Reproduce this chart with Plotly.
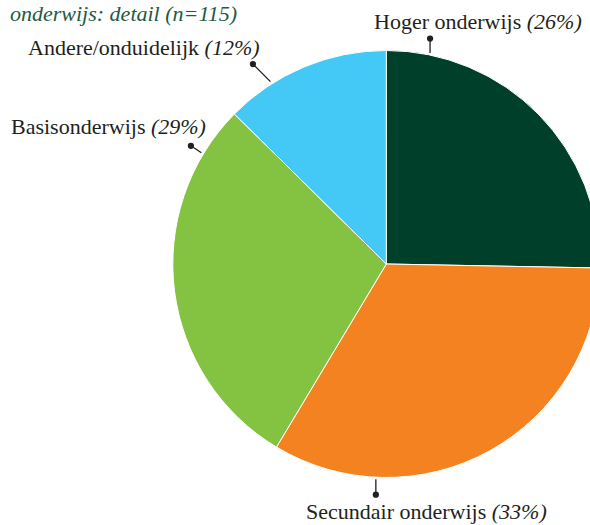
import math
import plotly.graph_objects as go

# ---- data ----
categories = ["Hoger onderwijs", "Secundair onderwijs", "Basisonderwijs", "Andere/onduidelijk"]
slice_values = [25.3, 33.3, 28.8, 12.6]      # slice sizes as drawn (%)
label_pcts = [26, 33, 29, 12]                # percentages as printed
title_text = "onderwijs: detail (n=115)"

# ---- style ----
colors = ["#00402a", "#f58220", "#84c341", "#44c8f5"]
W, H = 600, 525
CX, CY, R = 386.3, 264.0, 213.5
FONT = "Liberation Serif"
TXT = "#231f20"
# per-label: leader angle on the rim (deg, clockwise from top), dot offset (px), text centre (px)
leader_angle = [11.8, 182.8, 301.0, 327.7]
dot_offset = [(0, -16), (0, 17), (-12, -8), (-19, -19)]
text_center = [(478, 22), (426, 511), (108, 127), (144, 47)]

fig = go.Figure(go.Pie(
    labels=categories, values=slice_values, sort=False, direction="clockwise", rotation=0,
    marker=dict(colors=colors, line=dict(color="white", width=1)),
    textinfo="none", hoverinfo="skip", showlegend=False,
    domain=dict(x=[(CX - R) / W, (CX + R) / W], y=[1 - (CY + R) / H, 1 - (CY - R) / H]),
))

def px2paper(x, y):
    return x / W, 1 - y / H

ann = []
for i, cat in enumerate(categories):
    a = math.radians(leader_angle[i])
    ex, ey = CX + (R + 0.5) * math.sin(a), CY - (R + 0.5) * math.cos(a)
    dx, dy = ex + dot_offset[i][0], ey + dot_offset[i][1]
    px, py = px2paper(dx, dy)
    ann.append(dict(x=px, y=py, xref="paper", yref="paper", text="", showarrow=True,
                    ax=ex - dx, ay=ey - dy, axref="pixel", ayref="pixel",
                    arrowhead=6, arrowsize=1.2, arrowwidth=1.3, arrowcolor=TXT,
                    standoff=0, startstandoff=0))
    tx, ty = px2paper(*text_center[i])
    ann.append(dict(x=tx, y=ty, xref="paper", yref="paper", showarrow=False,
                    xanchor="center", yanchor="middle",
                    text=f"{cat} <i>({label_pcts[i]}%)</i>",
                    font=dict(family=FONT, size=22, color=TXT)))

ann.append(dict(x=8 / W, y=1 - 13 / H, xref="paper", yref="paper", showarrow=False,
                xanchor="left", yanchor="middle", text=f"<i>{title_text}</i>",
                font=dict(family=FONT, size=22, color="#1d5a45")))

fig.update_layout(width=W, height=H, margin=dict(l=0, r=0, t=0, b=0),
                  paper_bgcolor="white", plot_bgcolor="white", annotations=ann)

fig.write_html("out.html", config={"displayModeBar": False},
               post_script="document.body.style.margin='0';document.body.style.overflow='hidden';document.documentElement.style.overflow='hidden';")
